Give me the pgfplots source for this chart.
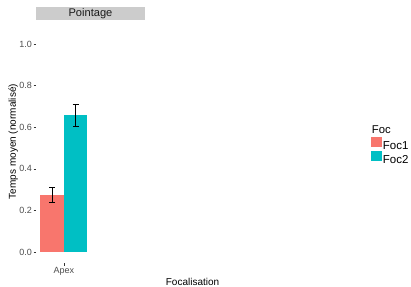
\documentclass[border=0pt]{standalone}
\usepackage{fontspec}
\setmainfont{Liberation Sans}
\usepackage{pgfplots}
\pgfplotsset{compat=1.18}
\definecolor{foc1}{HTML}{F8766D}
\definecolor{foc2}{HTML}{00BFC4}
\definecolor{stripgrey}{HTML}{CCCCCC}
\definecolor{ticklab}{HTML}{4D4D4D}
\definecolor{tickcol}{HTML}{333333}
\definecolor{striptext}{HTML}{1A1A1A}
\begin{document}
\begin{tikzpicture}
\path[use as bounding box] (0pt,0pt) rectangle (411pt,286pt);
\begin{axis}[
  at={(36pt,22.7pt)}, anchor=south west,
  scale only axis, width=109pt, height=243.6pt,
  xmin=-0.536, xmax=1.552, ymin=-0.054, ymax=1.117,
  clip=false,
  axis x line*=bottom, axis y line*=left,
  axis line style={draw=none},
  tick align=outside, major tick length=2.4pt,
  tick style={color=tickcol, line width=0.5pt},
  xtick={0}, xticklabels={Apex},
  ytick={0,0.2,0.4,0.6,0.8,1},
  yticklabel={\pgfmathprintnumber[fixed,fixed zerofill,precision=1]{\tick}},
  /pgf/number format/assume math mode=true,
  ticklabel style={font=\fontsize{9}{10}\selectfont, text=ticklab},
  yticklabel style={inner sep=0pt, xshift=-1.6pt},
  xticklabel style={inner sep=0pt, yshift=-1.4pt},
  xlabel={Focalisation},
  ylabel={Temps moyen (normalisé)},
  label style={font=\fontsize{11.3}{13}\selectfont, text=black},
  every axis x label/.style={at={(rel axis cs:1.436,-0.0891)}, anchor=base},
  every axis y label/.style={at={(rel axis cs:-0.1853,0.5)}, rotate=90, anchor=base},
  legend style={at={(rel axis cs:3.073,0.5197)}, anchor=north west,
    draw=none, fill=none, inner sep=0pt, outer sep=0pt, row sep=0pt,
    column sep=1.2pt,
    font=\fontsize{11.5}{12}\selectfont,
    nodes={inner sep=0pt, text height=9pt, text depth=1.6pt}},
  legend cell align=left,
  legend image code/.code={\fill[#1,draw=none] (0pt,-1pt) rectangle (10.7pt,9pt);},
]
\addplot[ybar, bar width=0.45, bar shift=0pt, fill=foc1, draw=none,
  error bars/.cd, y dir=both, y explicit,
  error bar style={line width=0.7pt, color=black},
  error mark options={rotate=90, mark size=3pt, line width=0.7pt, color=black}]
  coordinates {(-0.225,0.274) += (0,0.035) -= (0,0.037)};
\addlegendentry{Foc1}
\addplot[ybar, bar width=0.45, bar shift=0pt, fill=foc2, draw=none,
  error bars/.cd, y dir=both, y explicit,
  error bar style={line width=0.7pt, color=black},
  error mark options={rotate=90, mark size=3pt, line width=0.7pt, color=black}]
  coordinates {(0.225,0.659) += (0,0.051) -= (0,0.053)};
\addlegendentry{Foc2}
\fill[stripgrey] (rel axis cs:0,1) rectangle (rel axis cs:1,1.0534);
\node[anchor=base, font=\fontsize{11.1}{12}\selectfont, text=striptext]
  at (rel axis cs:0.5,1.0144) {Pointage};
\node[anchor=base west, font=\fontsize{11.3}{12}\selectfont, inner sep=0pt]
  at (rel axis cs:3.080,0.5308) {Foc};
\end{axis}
\end{tikzpicture}
\end{document}
